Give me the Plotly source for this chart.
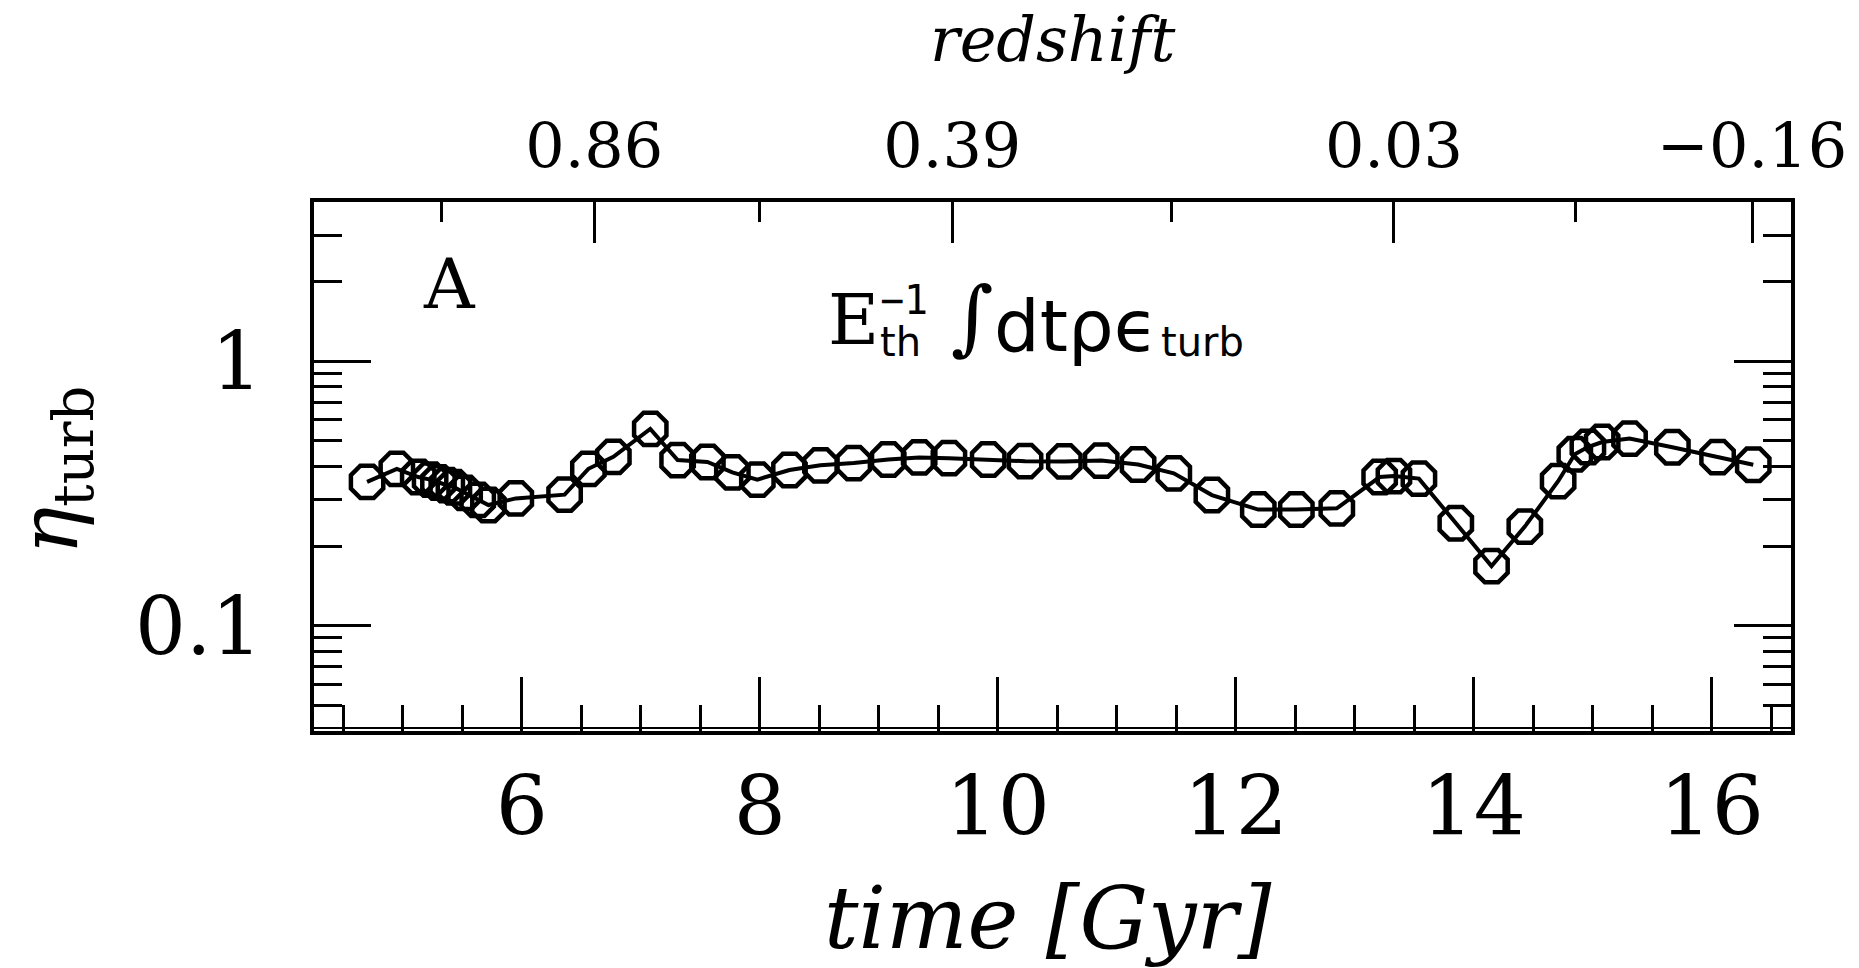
import math
import plotly.graph_objects as go

# ---- data ----
time_gyr = [4.70, 4.95, 5.13, 5.23, 5.30, 5.37, 5.43, 5.52, 5.63, 5.72, 5.95,
            6.36, 6.56, 6.77, 7.08, 7.31, 7.56, 7.77, 7.98, 8.25, 8.51, 8.79,
            9.08, 9.34, 9.59, 9.92, 10.23, 10.56, 10.87, 11.18, 11.48, 11.80,
            12.19, 12.51, 12.85, 13.21, 13.33, 13.54, 13.85, 14.15, 14.43,
            14.71, 14.85, 14.96, 15.08, 15.31, 15.67, 16.05, 16.35]
eta_turb = [0.350, 0.392, 0.365, 0.357, 0.348, 0.340, 0.334, 0.318, 0.299, 0.286, 0.303,
            0.313, 0.392, 0.435, 0.555, 0.423, 0.416, 0.380, 0.357, 0.388, 0.404, 0.412,
            0.425, 0.433, 0.430, 0.425, 0.419, 0.418, 0.421, 0.407, 0.377, 0.312,
            0.275, 0.275, 0.278, 0.365, 0.368, 0.360, 0.244, 0.168, 0.237,
            0.352, 0.445, 0.474, 0.495, 0.510, 0.473, 0.434, 0.406]

x_ticks = [6, 8, 10, 12, 14, 16]
x_tick_text = ["6", "8", "10", "12", "14", "16"]
y_ticks = [0.1, 1]
y_tick_text = ["0.1", "1"]
y_minor = [0.05, 0.06, 0.07, 0.08, 0.09, 0.2, 0.3, 0.4, 0.5, 0.6, 0.7, 0.8, 0.9, 2, 3]
z_tick_time = [6.609, 9.618, 13.33, 16.34]
z_tick_text = ["0.86", "0.39", "0.03", "\u22120.16"]
z_minor_time = [5.327, 8.0, 11.46, 14.86]
x_range = [4.254, 16.667]
y_range = [0.04, 4]

ylog = [math.log10(y_range[0]), math.log10(y_range[1])]

FONT = "DejaVu Serif"
W, H = 1859, 968
L, R, T, B = 314, 64, 202, 237
PW, PH = W - L - R, H - T - B


def px(x):
    return (x - L) / PW


def py(y):
    return (H - B - y) / PH


fig = go.Figure()
fig.add_trace(go.Scatter(
    x=time_gyr, y=eta_turb, mode="lines+markers",
    line=dict(color="black", width=4),
    marker=dict(symbol="octagon-open", size=35, color="black",
                line=dict(color="black", width=4.5)),
    showlegend=False, hoverinfo="skip"))
fig.add_trace(go.Scatter(
    x=time_gyr, y=eta_turb, xaxis="x2", yaxis="y2", mode="markers",
    marker=dict(opacity=0), showlegend=False, hoverinfo="skip"))

common = dict(showgrid=False, zeroline=False, showline=True, linecolor="black",
              linewidth=3.5, ticks="inside", tickcolor="black", tickwidth=3)

fig.update_layout(
    width=W, height=H,
    margin=dict(l=L, r=R, t=T, b=B, pad=0),
    paper_bgcolor="white", plot_bgcolor="white",
    font=dict(family=FONT, color="black"),
    xaxis=dict(**common, range=x_range, tickmode="array", tickvals=x_ticks,
               ticktext=x_tick_text, ticklen=54, ticklabelstandoff=2,
               tickfont=dict(size=82, family=FONT),
               minor=dict(tickmode="linear", tick0=0, dtick=0.5, ticks="inside",
                          ticklen=26, tickwidth=3, tickcolor="black")),
    xaxis2=dict(**common, range=x_range, overlaying="x", side="top", anchor="y",
                tickmode="array", tickvals=z_tick_time, ticktext=z_tick_text,
                ticklen=41, ticklabelstandoff=6,
                tickfont=dict(size=62, family=FONT),
                minor=dict(tickmode="array", tickvals=z_minor_time, ticks="inside",
                           ticklen=20, tickwidth=3, tickcolor="black")),
    yaxis=dict(**common, type="log", range=ylog, tickmode="array", tickvals=y_ticks,
               ticktext=y_tick_text, ticklen=57, ticklabelstandoff=32,
               tickfont=dict(size=80, family=FONT),
               minor=dict(tickmode="array", tickvals=y_minor, ticks="inside",
                          ticklen=28, tickwidth=3, tickcolor="black")),
    yaxis2=dict(**common, type="log", range=ylog, overlaying="y", side="right",
                anchor="x", tickmode="array", tickvals=y_ticks, showticklabels=False,
                ticklen=57,
                minor=dict(tickmode="array", tickvals=y_minor, ticks="inside",
                           ticklen=28, tickwidth=3, tickcolor="black")),
)

# second (inner) bottom line seen in the reference
fig.add_shape(type="line", xref="paper", yref="paper", x0=-0.002, x1=1.002,
              y0=3.0 / PH, y1=3.0 / PH, line=dict(color="black", width=2))

ann = [
    dict(text="<i>redshift</i>", x=px(1055), y=py(40), size=62, family=FONT),
    dict(text="<i>time [Gyr]</i>", x=px(1050), y=py(918), size=86, family=FONT),
    dict(text="A", x=px(450), y=py(284), size=70, family=FONT),
    dict(text="E", x=px(855), y=py(320), size=70, family=FONT),
    dict(text="\u22121", x=px(906), y=py(300), size=40, family="DejaVu Sans Mono"),
    dict(text="th", x=px(902), y=py(342), size=40, family="DejaVu Sans"),
    dict(text="\u222b", x=px(974), y=py(316), size=82, family=FONT),
    dict(text="dt\u03c1\u03f5", x=px(1078), y=py(326), size=72, family="DejaVu Sans"),
    dict(text="turb", x=px(1205), y=py(342), size=40, family="DejaVu Sans"),
]
for a in ann:
    fig.add_annotation(text=a["text"], x=a["x"], y=a["y"], xref="paper", yref="paper",
                       xanchor="center", yanchor="middle", showarrow=False,
                       font=dict(size=a["size"], family=a["family"], color="black"))

fig.add_annotation(text="<i>\u03b7</i><sub>turb</sub>", x=px(54), y=py(470),
                   xref="paper", yref="paper", xanchor="center", yanchor="middle",
                   showarrow=False, textangle=-90,
                   font=dict(size=80, family=FONT, color="black"))

fig.write_html("out.html")
